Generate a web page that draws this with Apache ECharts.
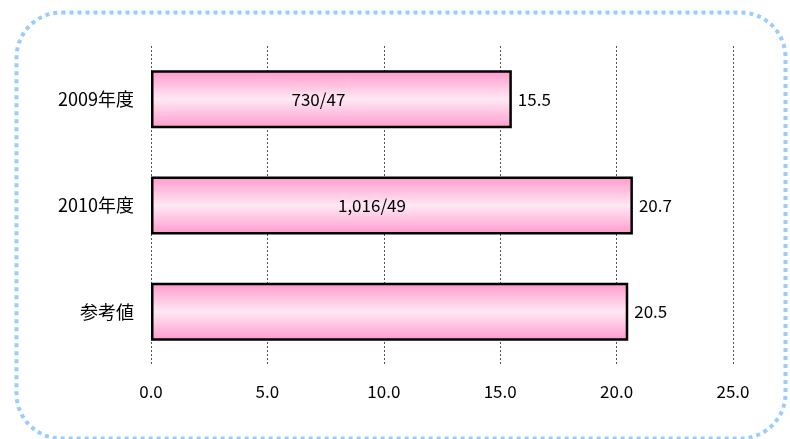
<!DOCTYPE html>
<html><head><meta charset="utf-8">
<script src="https://cdn.jsdelivr.net/npm/echarts@6/dist/echarts.min.js"></script>
<style>html,body{margin:0;padding:0;background:#fff}#c{width:790px;height:439px}</style>
</head><body><div id="c"></div>
<script>
const categories = ['2009年度', '2010年度', '参考値'];
const values = [15.5, 20.7, 20.5];
const innerLabels = ['730/47', '1,016/49', ''];
const innerOffsets = [-13, -20, 0];
const xTicks = [0, 5, 10, 15, 20, 25];

const FONT = '"Noto Sans CJK JP", sans-serif';
const chart = echarts.init(document.getElementById('c'));
const grad = new echarts.graphic.LinearGradient(0, 0, 0, 1, [
  {offset: 0, color: '#ff99cc'},
  {offset: 0.5, color: '#ffe8f4'},
  {offset: 1, color: '#ff99cc'}
]);
chart.setOption({
  animation: false,
  graphic: [{
    type: 'rect', left: 14, top: 10,
    shape: {width: 769, height: 426, r: 45},
    style: {fill: 'none', stroke: '#99ccff', lineWidth: 4, lineDash: [4, 4]}
  }],
  grid: {left: 151, right: 57, top: 46, bottom: 74},
  xAxis: {
    type: 'value', min: xTicks[0], max: xTicks[xTicks.length - 1], interval: 5,
    axisLine: {show: false}, axisTick: {show: false},
    axisLabel: {formatter: v => v.toFixed(1), color: '#000', fontSize: 17, fontFamily: FONT, margin: 18},
    splitLine: {show: true, lineStyle: {color: '#555', type: [2, 2], width: 1}}
  },
  yAxis: {
    type: 'category', data: categories, inverse: true,
    axisLine: {show: false}, axisTick: {show: false},
    axisLabel: {color: '#000', fontSize: 18, fontFamily: FONT, margin: 17}
  },
  series: [{
    type: 'bar', barWidth: 58,
    data: values.map((v, i) => ({value: v})),
    itemStyle: {color: grad, borderColor: '#000', borderWidth: 2.5},
    label: {show: true, position: 'right', distance: 6, color: '#000', fontSize: 17, fontFamily: FONT,
      formatter: p => p.value.toFixed(1)}
  }, {
    type: 'bar', barWidth: 58, barGap: '-100%',
    data: values.map((v, i) => ({value: v, label: {offset: [innerOffsets[i], 0]}})),
    itemStyle: {color: 'transparent'},
    label: {show: true, position: 'inside', color: '#000', fontSize: 17, fontFamily: FONT,
      formatter: p => innerLabels[p.dataIndex]},
    silent: true
  }]
});
</script></body></html>
